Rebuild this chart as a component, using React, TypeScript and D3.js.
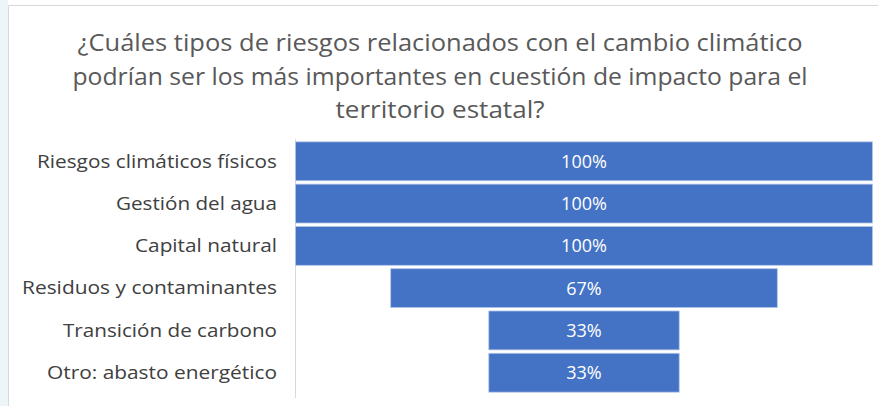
import React from 'react';
import * as d3 from 'd3';

const title = [
  '¿Cuáles tipos de riesgos relacionados con el cambio climático',
  'podrían ser los más importantes en cuestión de impacto para el',
  'territorio estatal?',
];
const categories = [
  'Riesgos climáticos físicos',
  'Gestión del agua',
  'Capital natural',
  'Residuos y contaminantes',
  'Transición de carbono',
  'Otro: abasto energético',
];
const values = [100, 100, 100, 67, 33, 33];
// measured label widths so the narrow Calibri look is kept
const labelWidths = [240, 161, 142, 255, 214, 230];
const titleWidths = [725, 735, 209];

const W = 878;
const H = 406;
const FONT = '"Open Sans", "Noto Sans", sans-serif';

export default function App() {
  const y = d3.scaleBand<string>().domain(categories).range([141, 393]).paddingInner(0.08).paddingOuter(0.02);
  const w = d3.scaleLinear().domain([0, 100]).range([0, 577]);
  const cx = 584;

  return (
    <div style={{ position: 'fixed', left: 0, top: 0 }}>
      <svg width={W} height={H} style={{ display: 'block', fontFamily: FONT }}>
        <rect x={0} y={0} width={W} height={H} fill="#ffffff" />
        <rect x={0} y={0} width={8} height={H} fill="#eef5f8" />
        <path d={`M8.5,${H} V5.5 H${W}`} fill="none" stroke="#d9d9d9" />

        {title.map((t, i) => (
          <text
            key={t}
            x={440}
            y={51 + i * 33.5}
            textAnchor="middle"
            fontSize={24}
            fill="#595959"
            textLength={titleWidths[i]}
            lengthAdjust="spacingAndGlyphs"
          >
            {t}
          </text>
        ))}

        <line x1={295.5} x2={295.5} y1={139} y2={398} stroke="#d9d9d9" />

        {categories.map((c, i) => {
          const bw = w(values[i]);
          const by = y(c)!;
          return (
            <g key={c}>
              <rect
                x={cx - bw / 2}
                y={by}
                width={bw}
                height={y.bandwidth()}
                fill="#4472c4"
                stroke="#b4c7e7"
                strokeWidth={0.8}
              />
              <text
                x={cx}
                y={by + y.bandwidth() / 2}
                dy="0.36em"
                textAnchor="middle"
                fontSize={18}
                fill="#ffffff"
              >
                {values[i]}%
              </text>
              <text
                x={277}
                y={by + y.bandwidth() / 2}
                dy="0.35em"
                textAnchor="end"
                fontSize={18}
                fill="#404040"
                textLength={labelWidths[i]}
                lengthAdjust="spacingAndGlyphs"
              >
                {c}
              </text>
            </g>
          );
        })}
      </svg>
    </div>
  );
}
